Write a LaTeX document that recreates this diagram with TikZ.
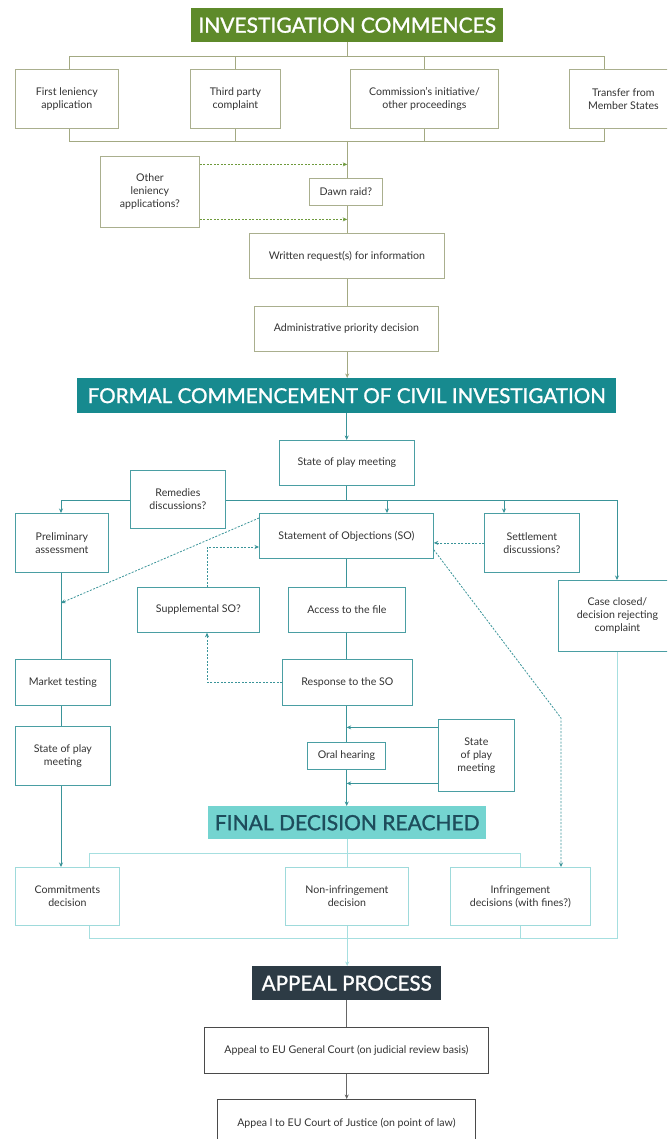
\documentclass[tikz,border=0pt]{standalone}
\usepackage{fontspec}
\setmainfont{Lato}
\newfontfamily\bannerfont{Lato}[FakeBold=1.2]
\usetikzlibrary{arrows.meta}
\pgfdeclarelayer{bg}
\pgfsetlayers{bg,main}
\definecolor{gbanner}{HTML}{5E8A2A}
\definecolor{gborder}{HTML}{AAAF8E}
\definecolor{gline}{HTML}{A3A982}
\definecolor{gdash}{HTML}{6E9A3C}
\definecolor{tbanner}{HTML}{178A8F}
\definecolor{tborder}{HTML}{4A9EA3}
\definecolor{tline}{HTML}{3A9499}
\definecolor{lbanner}{HTML}{74D4D0}
\definecolor{ltext}{HTML}{1E4D5C}
\definecolor{lborder}{HTML}{9EDADB}
\definecolor{lline}{HTML}{A6DFE0}
\definecolor{dbanner}{HTML}{2D3B45}
\definecolor{dborder}{HTML}{4A4A4A}
\definecolor{dline}{HTML}{666666}
\definecolor{txt}{HTML}{333333}
\newcommand\boxfont{\fontsize{10.6}{13}\selectfont}
\newcommand\boxat[7]{\node[#1, minimum width={#5-#3}, minimum height={#6-#4}, anchor=north west] (#2) at (#3,#4) {#7};}
\tikzset{
  box/.style={draw, rectangle, inner sep=1pt, align=center, fill=white, font=\boxfont, text=txt, line width=0.8pt},
  gbox/.style={box, draw=gborder},
  tbox/.style={box, draw=tborder},
  lbox/.style={box, draw=lborder},
  dbox/.style={box, draw=dborder},
  banner/.style={rectangle, inner sep=0pt, align=center, text=white},
  tip/.style={-{Stealth[length=4.5pt,width=4pt]}},
  gl/.style={draw=gline, line width=0.9pt},
  gd/.style={draw=gdash, line width=0.8pt, dash pattern=on 2pt off 1.5pt, tip},
  tl/.style={draw=tline, line width=0.9pt},
  td/.style={draw=tline, line width=0.8pt, dash pattern=on 2pt off 1.5pt, tip},
  ll/.style={draw=lline, line width=0.9pt},
  dl/.style={draw=dline, line width=0.9pt},
}
\begin{document}
\begin{tikzpicture}[x=1pt,y=-1pt]
\useasboundingbox (0,0) rectangle (667,1139);
\clip (0,0) rectangle (667,1139);

% ---------- investigation commences ----------
\boxat{banner, fill=gbanner, font=\bannerfont\fontsize{21}{24}\selectfont}{b1}{191}{8}{503}{42}{INVESTIGATION COMMENCES}
\boxat{gbox}{fl}{15}{69}{118}{128}{First leniency\\application}
\boxat{gbox}{tp}{190}{69}{280}{128}{Third party\\complaint}
\boxat{gbox}{cm}{350}{69}{498}{128}{Commission's initiative/\\other proceedings}
\boxat{gbox}{tr}{569}{69}{677}{128}{Transfer from\\Member States}
\boxat{gbox}{ol}{100}{156}{199}{227}{Other\\leniency\\applications?}
\boxat{gbox}{dr}{309}{178}{382}{205}{Dawn raid?}
\boxat{gbox}{wr}{249}{233}{444}{278}{Written request(s) for information}
\boxat{gbox}{ap}{254}{306}{438}{351}{Administrative priority decision}

\coordinate (tbL) at (69,56);
\coordinate (tbR) at (604,56);
\coordinate (bbL) at (69,141);
\coordinate (bbR) at (604,141);

% ---------- formal commencement ----------
\boxat{banner, fill=tbanner, font=\bannerfont\fontsize{20.6}{23}\selectfont}{b2}{77}{378}{616}{413}{FORMAL COMMENCEMENT OF CIVIL INVESTIGATION}
\boxat{tbox}{sp}{279}{440}{414}{485}{State of play meeting}
\boxat{tbox}{rd}{130}{470}{225}{528}{Remedies\\discussions?}
\boxat{tbox}{pa}{15}{513}{108}{572}{Preliminary\\assessment}
\boxat{tbox}{so}{259}{513}{433}{558}{Statement of Objections (SO)}
\boxat{tbox}{se}{484}{513}{579}{572}{Settlement\\discussions?}
\boxat{tbox}{cc}{558}{580}{676}{651}{Case closed/\\decision rejecting\\complaint}
\boxat{tbox}{ss}{137}{587}{259}{632}{Supplemental SO?}
\boxat{tbox}{af}{288}{587}{405}{632}{Access to the file}
\boxat{tbox}{mt}{15}{659}{110}{705}{Market testing}
\boxat{tbox}{rs}{282}{659}{412}{705}{Response to the SO}
\boxat{tbox}{spl}{15}{726}{110}{785}{State of play\\meeting}
\boxat{tbox}{oh}{307}{742}{385}{769}{Oral hearing}
\boxat{tbox}{spr}{438}{719}{514}{791}{State\\of play\\meeting}

\coordinate (mbL) at (61,500);
\coordinate (mbR) at (617,500);
\coordinate (dso) at (387,500);
\coordinate (dse) at (504,500);
\coordinate (dpa) at (61,603);
\coordinate (ssa) at (207,547);
\coordinate (ssb) at (207,682);
\coordinate (k1) at (561,718);

% ---------- final decision ----------
\boxat{banner, fill=lbanner, text=ltext, font=\bannerfont\fontsize{21}{24}\selectfont}{b3}{208}{806}{486}{839}{FINAL DECISION REACHED}
\boxat{lbox}{cd}{15}{867}{119}{925}{Commitments\\decision}
\boxat{lbox}{ni}{285}{867}{408}{925}{Non-infringement\\decision}
\boxat{lbox}{inf}{450}{867}{590}{925}{Infringement\\decisions (with fines?)}

\coordinate (fbL) at (89,853);
\coordinate (fbR) at (520,853);
\coordinate (lbL) at (89,938);
\coordinate (lbI) at (520,938);
\coordinate (lbR) at (617,938);

% ---------- appeal ----------
\boxat{banner, fill=dbanner, font=\bannerfont\fontsize{20.6}{23}\selectfont}{b4}{252}{966}{441}{1000}{APPEAL PROCESS}
\boxat{dbox}{ga}{204}{1027}{488}{1073}{Appeal to EU General Court (on judicial review basis)}
\boxat{dbox}{cj}{217}{1099}{475}{1146}{Appea l to EU Court of Justice (on point of law)}

\begin{pgfonlayer}{bg}
\fill[white] (0,0) rectangle (667,1139);
% top
\draw[gl] (b1.south) -- (b1.south |- tbL);
\draw[gl] (fl.north -| tbL) -- (tbL) -- (tbR) -- (tr.north -| tbR);
\draw[gl] (tp.north) -- (tp.north |- tbL);
\draw[gl] (cm.north) -- (cm.north |- tbL);
\draw[gl] (fl.south -| bbL) -- (bbL) -- (bbR) -- (tr.south -| bbR);
\draw[gl] (tp.south) -- (tp.south |- bbL);
\draw[gl] (cm.south) -- (cm.south |- bbL);
\draw[gl] (b1.south |- bbL) -- (b1.south |- wr.north);
\draw[gd] ([yshift=27.5pt]ol.east) -- ([yshift=27.5pt]ol.east -| b1.south);
\draw[gd] ([yshift=-27.5pt]ol.east) -- ([yshift=-27.5pt]ol.east -| b1.south);
\draw[gl] (b1.south |- wr.south) -- (b1.south |- ap.north);
\draw[gl, tip] (b1.south |- ap.south) -- (b1.south |- b2.north);
% middle
\draw[tl, tip] (b2.south) -- (b2.south |- sp.north);
\draw[tl] (b2.south |- sp.south) -- (b2.south |- mbL);
\draw[tl, tip] (mbR) -- (mbL) -- (pa.north -| mbL);
\draw[tl, tip] (mbL) -- (mbR) -- (cc.north -| mbR);
\draw[tl, tip] (dso) -- (so.north -| dso);
\draw[tl, tip] (dse) -- (se.north -| dse);
\draw[td] (se.west) -- (se.west -| so.east);
\draw[td] ([yshift=-5pt]so.north west) -- (dpa);
\draw[td] (ssa |- ss.north) -- (ssa) -- (ssa -| so.west);
\draw[td] (rs.west |- ssb) -- (ssb) -- (ssb |- ss.south);
\draw[td] ([yshift=9pt]so.south east) -- (k1) -- (k1 |- inf.north);
\draw[tl] (b2.south |- so.south) -- (b2.south |- af.north);
\draw[tl] (b2.south |- af.south) -- (b2.south |- rs.north);
\draw[tl, tip] (b2.south |- rs.south) -- (b2.south |- b3.north);
\draw[tl, tip] ([yshift=28pt]spr.west) -- ([yshift=28pt]spr.west -| b2.south);
\draw[tl, tip] ([yshift=-28pt]spr.west) -- ([yshift=-28pt]spr.west -| b2.south);
\draw[tl] (pa.south -| mbL) -- (mt.north -| mbL);
\draw[tl] (mt.south -| mbL) -- (spl.north -| mbL);
\draw[tl, tip] (spl.south -| mbL) -- (cd.north -| mbL);
% final
\draw[ll] (b3.south) -- (b3.south |- fbL);
\draw[ll] (cd.north -| fbL) -- (fbL) -- (fbR) -- (inf.north -| fbR);
\draw[ll] (b3.south |- fbL) -- (b3.south |- ni.north);
\draw[ll] (cd.south -| lbL) -- (lbL) -- (lbR) -- (cc.south -| lbR);
\draw[ll] (inf.south -| lbI) -- (lbI);
\draw[ll, tip] (b3.south |- ni.south) -- (b3.south |- b4.north);
% appeal
\draw[dl] (b4.south) -- (b4.south |- ga.north);
\draw[dl, tip] (b4.south |- ga.south) -- (b4.south |- cj.north);
\end{pgfonlayer}
\end{tikzpicture}
\end{document}
